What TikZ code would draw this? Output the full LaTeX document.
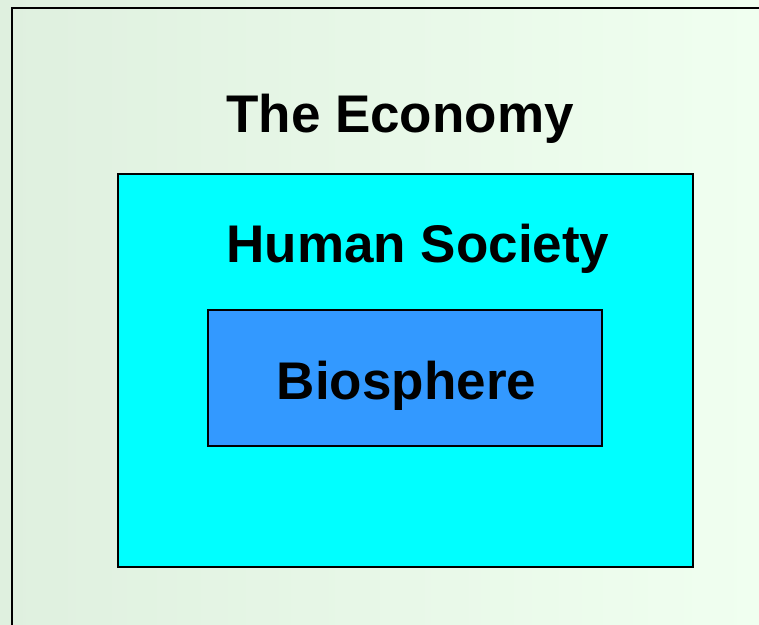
\documentclass[tikz,border=0pt]{standalone}
\usepackage{fontspec}
\setmainfont{Liberation Sans}
\usepackage{xcolor}
\definecolor{bgleft}{RGB}{223,240,223}
\definecolor{bgright}{RGB}{240,255,240}
\definecolor{societycyan}{RGB}{0,255,255}
\definecolor{bioblue}{RGB}{51,153,255}
\tikzset{
  layerbox/.style={draw=black,line width=1.8pt,rectangle,inner sep=0pt},
  layertitle/.style={font=\fontsize{53}{60}\selectfont\bfseries,inner sep=0pt,anchor=base}
}
\begin{document}
\begin{tikzpicture}[x=1pt,y=-1pt]
  \useasboundingbox (0,0) rectangle (759,624);
  \clip (0,0) rectangle (759,624);
  \shade[left color=bgleft,right color=bgright] (0,0) rectangle (759,624);
  % outer box, runs off the page
  \draw[line width=2pt] (12,660) -- (12,8) -- (800,8);
  \node[layertitle] (economy) at (400,132) {The Economy};
  \node[layerbox,fill=societycyan,minimum width=575pt,minimum height=393pt] (society) at (405.5,370.5) {};
  \node[layertitle] (societytext) at (418,262) {Human Society};
  \node[layerbox,line width=1.4pt,fill=bioblue,minimum width=394pt,minimum height=136pt] (bio) at (405,378) {};
  \node[layertitle] (biotext) at (406.5,399) {Biosphere};
\end{tikzpicture}
\end{document}
